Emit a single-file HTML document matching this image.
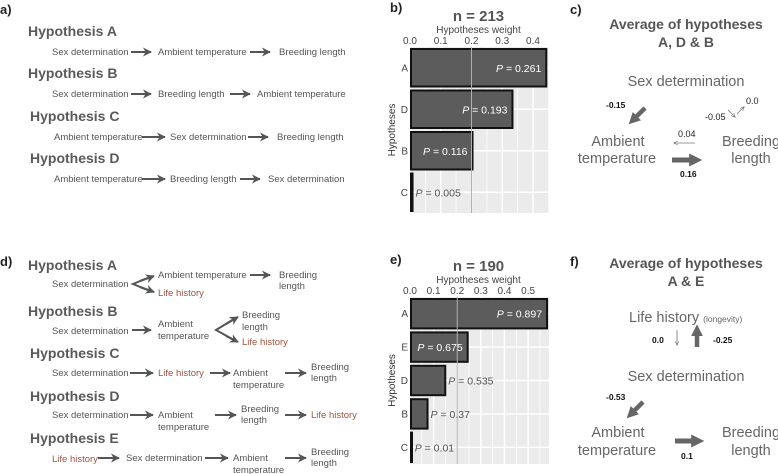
<!DOCTYPE html>
<html><head><meta charset="utf-8">
<style>
html,body{margin:0;padding:0;background:#fff;}
svg{display:block;font-family:"Liberation Sans",Arial,sans-serif;}
.h{font-weight:bold;font-size:14px;fill:#5a5a5a;}
.r{font-size:9.5px;fill:#555;}
.lh{font-size:9.5px;fill:#a0523d;}
.pl{font-weight:bold;font-size:13px;fill:#222;}
.big{font-size:14.5px;fill:#666;}
.tt{font-weight:bold;font-size:14px;fill:#555;}
.co{font-weight:bold;font-size:8.5px;fill:#111;}
</style></head>
<body>
<svg id="fig" width="778" height="474" viewBox="0 0 778 474" xmlns="http://www.w3.org/2000/svg">
<defs>
<marker id="ah" viewBox="0 0 10 10" refX="9" refY="5" markerWidth="4.5" markerHeight="4.5" orient="auto"><path d="M0,0 L10,5 L0,10 L3,5 z" fill="#555"/></marker>
<marker id="ahw" viewBox="0 0 10 10" refX="8" refY="5" markerWidth="6" markerHeight="6" orient="auto"><path d="M0,1 L9,5 L0,9" fill="none" stroke="#555" stroke-width="1"/></marker>
<marker id="ahb" viewBox="0 0 10 10" refX="6" refY="5" markerWidth="2.6" markerHeight="2.6" orient="auto"><path d="M0,0 L10,5 L0,10 z" fill="#666"/></marker>
</defs>

<!-- Panel a -->
<g>
<text class="pl" x="0" y="14">a)</text>
<text class="h" x="28" y="36">Hypothesis A</text>
<text class="r" x="52" y="55">Sex determination</text>
<line x1="131" y1="52" x2="151" y2="52" stroke="#555" stroke-width="2" marker-end="url(#ah)"/>
<text class="r" x="158" y="55">Ambient temperature</text>
<line x1="250" y1="52" x2="270" y2="52" stroke="#555" stroke-width="2" marker-end="url(#ah)"/>
<text class="r" x="279" y="55">Breeding length</text>

<text class="h" x="28" y="78">Hypothesis B</text>
<text class="r" x="52" y="97">Sex determination</text>
<line x1="131" y1="94" x2="151" y2="94" stroke="#555" stroke-width="2" marker-end="url(#ah)"/>
<text class="r" x="158" y="97">Breeding length</text>
<line x1="230" y1="94" x2="250" y2="94" stroke="#555" stroke-width="2" marker-end="url(#ah)"/>
<text class="r" x="257" y="97">Ambient temperature</text>

<text class="h" x="30" y="121">Hypothesis C</text>
<text class="r" x="54" y="140">Ambient temperature</text>
<line x1="142" y1="137" x2="165" y2="137" stroke="#555" stroke-width="2" marker-end="url(#ah)"/>
<text class="r" x="170" y="140">Sex determination</text>
<line x1="248" y1="137" x2="268" y2="137" stroke="#555" stroke-width="2" marker-end="url(#ah)"/>
<text class="r" x="277" y="140">Breeding length</text>

<text class="h" x="30" y="163">Hypothesis D</text>
<text class="r" x="54" y="182">Ambient temperature</text>
<line x1="142" y1="179" x2="165" y2="179" stroke="#555" stroke-width="2" marker-end="url(#ah)"/>
<text class="r" x="170" y="182">Breeding length</text>
<line x1="240" y1="179" x2="260" y2="179" stroke="#555" stroke-width="2" marker-end="url(#ah)"/>
<text class="r" x="268" y="182">Sex determination</text>
</g>

<!-- Panel d -->
<g>
<text class="pl" x="0" y="266">d)</text>
<text class="h" x="28" y="270">Hypothesis A</text>
<text class="r" x="52" y="287">Sex determination</text>
<path d="M150,277 L133,284 L150,291" fill="none" stroke="#555" stroke-width="2"/>
<line x1="140" y1="281" x2="154" y2="276" stroke="#555" stroke-width="2" marker-end="url(#ah)"/>
<line x1="140" y1="287" x2="154" y2="292" stroke="#555" stroke-width="2" marker-end="url(#ah)"/>
<text class="r" x="158" y="278">Ambient temperature</text>
<line x1="250" y1="275" x2="270" y2="275" stroke="#555" stroke-width="2" marker-end="url(#ah)"/>
<text class="r" x="279" y="278">Breeding</text>
<text class="r" x="279" y="289">length</text>
<text class="lh" x="158" y="296">Life history</text>

<text class="h" x="28" y="316">Hypothesis B</text>
<text class="r" x="52" y="334">Sex determination</text>
<line x1="132" y1="330" x2="151" y2="330" stroke="#555" stroke-width="2" marker-end="url(#ah)"/>
<text class="r" x="158" y="327">Ambient</text>
<text class="r" x="158" y="339">temperature</text>
<path d="M234,319 L216,330 L234,340" fill="none" stroke="#555" stroke-width="2"/>
<line x1="226" y1="324" x2="238" y2="317" stroke="#555" stroke-width="2" marker-end="url(#ah)"/>
<line x1="226" y1="336" x2="238" y2="342" stroke="#555" stroke-width="2" marker-end="url(#ah)"/>
<text class="r" x="242" y="318">Breeding</text>
<text class="r" x="242" y="330">length</text>
<text class="lh" x="242" y="345">Life history</text>

<text class="h" x="30" y="358">Hypothesis C</text>
<text class="r" x="52" y="376">Sex determination</text>
<line x1="130" y1="373" x2="153" y2="373" stroke="#555" stroke-width="2" marker-end="url(#ah)"/>
<text class="lh" x="158" y="376">Life history</text>
<line x1="210" y1="373" x2="230" y2="373" stroke="#555" stroke-width="2" marker-end="url(#ah)"/>
<text class="r" x="233" y="376">Ambient</text>
<text class="r" x="233" y="388">temperature</text>
<line x1="285" y1="373" x2="306" y2="373" stroke="#555" stroke-width="2" marker-end="url(#ah)"/>
<text class="r" x="311" y="370">Breeding</text>
<text class="r" x="311" y="381">length</text>

<text class="h" x="30" y="401">Hypothesis D</text>
<text class="r" x="52" y="418">Sex determination</text>
<line x1="130" y1="415" x2="153" y2="415" stroke="#555" stroke-width="2" marker-end="url(#ah)"/>
<text class="r" x="158" y="418">Ambient</text>
<text class="r" x="158" y="430">temperature</text>
<line x1="215" y1="415" x2="236" y2="415" stroke="#555" stroke-width="2" marker-end="url(#ah)"/>
<text class="r" x="241" y="412">Breeding</text>
<text class="r" x="241" y="423">length</text>
<line x1="285" y1="415" x2="306" y2="415" stroke="#555" stroke-width="2" marker-end="url(#ah)"/>
<text class="lh" x="311" y="418">Life history</text>

<text class="h" x="30" y="443">Hypothesis E</text>
<text class="lh" x="52" y="462">Life history</text>
<line x1="98" y1="458" x2="119" y2="458" stroke="#555" stroke-width="2" marker-end="url(#ah)"/>
<text class="r" x="126" y="461">Sex determination</text>
<line x1="205" y1="458" x2="228" y2="458" stroke="#555" stroke-width="2" marker-end="url(#ah)"/>
<text class="r" x="233" y="461">Ambient</text>
<text class="r" x="233" y="473">temperature</text>
<line x1="285" y1="458" x2="306" y2="458" stroke="#555" stroke-width="2" marker-end="url(#ah)"/>
<text class="r" x="311" y="455">Breeding</text>
<text class="r" x="311" y="466">length</text>
</g>

<!-- Panel c -->
<g>
<text class="pl" x="570" y="14">c)</text>
<text class="tt" x="686" y="29" text-anchor="middle">Average of hypotheses</text>
<text class="tt" x="686" y="47" text-anchor="middle">A, D &amp; B</text>
<text class="big" x="686" y="86" text-anchor="middle">Sex determination</text>
<line x1="645" y1="108" x2="632" y2="121" stroke="#666" stroke-width="4.5" marker-end="url(#ahb)"/>
<text class="co" x="606" y="108">-0.15</text>
<line x1="737" y1="114" x2="744" y2="107" stroke="#777" stroke-width="0.8" marker-end="url(#ahw)"/>
<text class="r" x="746" y="104" style="font-size:9px;fill:#222">0.0</text>
<line x1="728" y1="110" x2="735" y2="117" stroke="#777" stroke-width="0.8" marker-end="url(#ahw)"/>
<text class="r" x="705" y="120" style="font-size:9px;fill:#222">-0.05</text>
<text class="big" x="618" y="146" text-anchor="middle">Ambient</text>
<text class="big" x="617" y="163" text-anchor="middle">temperature</text>
<text class="big" x="751" y="146" text-anchor="middle">Breeding</text>
<text class="big" x="751" y="163" text-anchor="middle">length</text>
<text class="r" x="678" y="137" style="font-size:9px;fill:#222">0.04</text>
<line x1="695" y1="143" x2="674" y2="143" stroke="#777" stroke-width="0.8" marker-end="url(#ahw)"/>
<line x1="672" y1="160" x2="697" y2="160" stroke="#666" stroke-width="5" marker-end="url(#ahb)"/>
<text class="co" x="680" y="177">0.16</text>
</g>

<!-- Panel f -->
<g>
<text class="pl" x="570" y="266">f)</text>
<text class="tt" x="686" y="268" text-anchor="middle">Average of hypotheses</text>
<text class="tt" x="686" y="286" text-anchor="middle">A &amp; E</text>
<text class="big" x="629" y="322">Life history <tspan style="font-size:8.5px">(longevity)</tspan></text>
<line x1="677" y1="330" x2="677" y2="345" stroke="#777" stroke-width="0.8" marker-end="url(#ahw)"/>
<text class="co" x="652" y="343">0.0</text>
<line x1="697" y1="347" x2="697" y2="329" stroke="#666" stroke-width="4.5" marker-end="url(#ahb)"/>
<text class="co" x="713" y="343">-0.25</text>
<text class="big" x="686" y="381" text-anchor="middle">Sex determination</text>
<text class="co" x="606" y="400">-0.53</text>
<line x1="643" y1="402" x2="630" y2="415" stroke="#666" stroke-width="4.5" marker-end="url(#ahb)"/>
<text class="big" x="618" y="437" text-anchor="middle">Ambient</text>
<text class="big" x="617" y="455" text-anchor="middle">temperature</text>
<text class="big" x="751" y="437" text-anchor="middle">Breeding</text>
<text class="big" x="751" y="455" text-anchor="middle">length</text>
<line x1="675" y1="441" x2="699" y2="441" stroke="#666" stroke-width="5" marker-end="url(#ahb)"/>
<text class="co" x="681" y="459">0.1</text>
</g>

<g id="chartB"></g>
<g id="chartE"></g>
</svg>

<script>
// Chart b data
const catsB = ["A","D","B","C"];
const weightsB = [0.44, 0.33, 0.2, 0.005];
const pLabelsB = ["0.261","0.193","0.116","0.005"];
const ticksB = [0.0,0.1,0.2,0.3,0.4];
// Chart e data
const catsE = ["A","E","D","B","C"];
const weightsE = [0.576, 0.24, 0.145, 0.07, 0.003];
const pLabelsE = [" 0.897","0.675","0.535","0.37","0.01"];
const ticksE = [0.0,0.1,0.2,0.3,0.4,0.5];
const refLine = 0.2;

const NS = "http://www.w3.org/2000/svg";
function mk(tag, attrs, parent){
  const e=document.createElementNS(NS,tag);
  for(const k in attrs) e.setAttribute(k,attrs[k]);
  parent.appendChild(e); return e;
}
function draw(g, cats, vals, labels, ticks, title, cfg){
  const {x0, x1, y0, y1, domainMax} = cfg;
  const sx = v => x0 + v/domainMax*(x1-x0);
  const band = (y1-y0)/cats.length;
  const sy = i => y0 + i*band;
  mk('rect',{x:x0,y:y0,width:x1-x0+2,height:y1-y0,fill:'#ebebeb'},g);
  const step = ticks[1]-ticks[0];
  for(let v=0; sx(v)<=x1+2; v+=step/2){
    mk('line',{x1:sx(v),x2:sx(v),y1:y0,y2:y1,stroke:'#fff','stroke-width':(Math.round(v/step*2)%2===0)?1.4:0.7},g);
  }
  for(let i=0;i<cats.length;i++){
    const c=sy(i)+band/2;
    mk('line',{x1:x0,x2:x1+2,y1:c,y2:c,stroke:'#fff','stroke-width':1.4},g);
  }
  ticks.forEach(t=>{
    const tx=mk('text',{x:sx(t),y:y0-3,'text-anchor':'middle','font-size':'10',fill:'#444'},g);
    tx.textContent=t.toFixed(1);
    
    
  });
  const ti=mk('text',{x:(x0+x1)/2,y:y0-26,'text-anchor':'middle','font-size':'15','font-weight':'bold',fill:'#555'},g);
  ti.textContent=title;
  
  
  const ax=mk('text',{x:(x0+x1)/2,y:y0-14,'text-anchor':'middle','font-size':'10',fill:'#444'},g);
  ax.textContent='Hypotheses weight';
  
  
  const yt=mk('text',{x:0,y:0,'text-anchor':'middle','font-size':'10',fill:'#333',transform:`translate(${x0-15},${(y0+y1)/2}) rotate(-90)`},g);
  yt.textContent='Hypotheses';
  
  
  cats.forEach((c,i)=>{
    const yc=sy(i)+band/2;
    const cl=mk('text',{x:x0-2,y:yc+3.5,'text-anchor':'end','font-size':'10',fill:'#444'},g);
    cl.textContent=c;
    
    
    const w=Math.max(sx(vals[i])-x0,1);
    const b=mk('rect',{x:x0+1,y:sy(i)+2,width:w,height:band-4,fill:'#5c5c5c',stroke:'#111','stroke-width':2},g);
    
    
  });
  mk('line',{x1:sx(refLine),x2:sx(refLine),y1:y0,y2:y1,stroke:'#b0b0b0','stroke-width':1},g);
  cats.forEach((c,i)=>{
    const yc=sy(i)+band/2;
    const end=sx(vals[i]);
    const inside = (end-x0) > 45;
    const t=mk('text',{'font-size':'10.5',y:yc+4},g);
    if(inside){ t.setAttribute('x',end-4); t.setAttribute('text-anchor','end'); t.setAttribute('fill','#fff'); }
    else { t.setAttribute('x',end+4); t.setAttribute('fill','#555'); }
    const it=document.createElementNS(NS,'tspan'); it.setAttribute('font-style','italic'); it.textContent='P';
    t.appendChild(it);
    t.appendChild(document.createTextNode(' = '+labels[i]));
    
    
  });
}
draw(document.getElementById('chartB'),catsB,weightsB,pLabelsB,ticksB,'n = 213',{x0:410,x1:547,y0:47,y1:213,domainMax:0.4455});
draw(document.getElementById('chartE'),catsE,weightsE,pLabelsE,ticksE,'n = 190',{x0:410,x1:547,y0:297,y1:464,domainMax:0.58});
</script>
<div style="position:absolute;left:390px;top:0;font:bold 13px 'Liberation Sans',sans-serif;color:#222">b)</div>
<div style="position:absolute;left:390px;top:252px;font:bold 13px 'Liberation Sans',sans-serif;color:#222">e)</div>
</body></html>
